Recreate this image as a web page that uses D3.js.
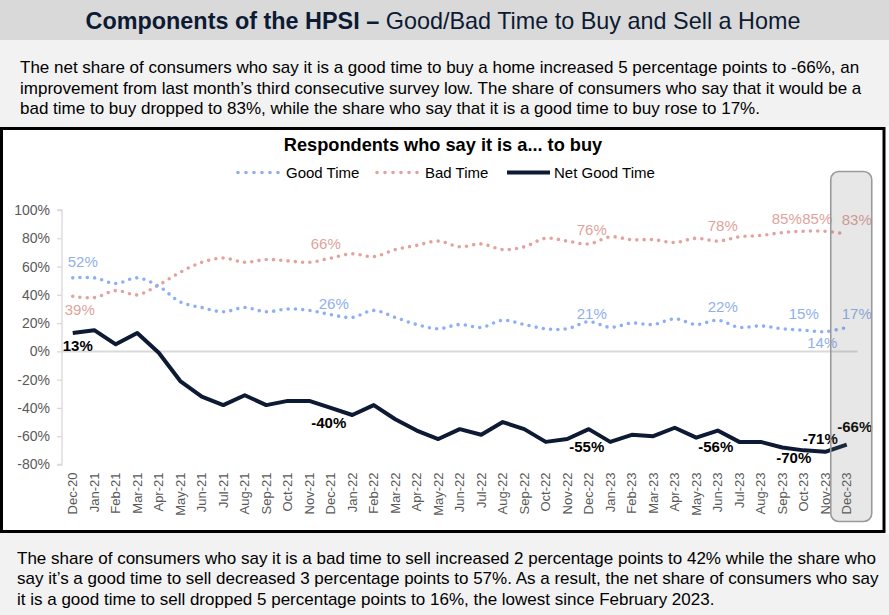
<!DOCTYPE html>
<html><head><meta charset="utf-8">
<script src="https://cdn.jsdelivr.net/npm/d3@7"></script>
<style>body{margin:0;background:#f2f2f2;}svg{display:block;font-family:"Liberation Sans",Arial,sans-serif;}</style>
</head><body><svg id="c" width="889" height="615"></svg>
<script>
const months = ["Dec-20","Jan-21","Feb-21","Mar-21","Apr-21","May-21","Jun-21","Jul-21","Aug-21","Sep-21","Oct-21","Nov-21",
"Dec-21","Jan-22","Feb-22","Mar-22","Apr-22","May-22","Jun-22","Jul-22","Aug-22","Sep-22","Oct-22","Nov-22",
"Dec-22","Jan-23","Feb-23","Mar-23","Apr-23","May-23","Jun-23","Jul-23","Aug-23","Sep-23","Oct-23","Nov-23","Dec-23"];
const goodTime = [52,52,48,52,46,35,31,28,31,28,30,29,26,24,29,24,19,16,19,17,22,19,16,16,21,17,20,19,23,19,22,17,18,16,15,14,17];
const badTime  = [39,38,43,40,47,56,63,66,63,65,64,63,66,69,67,72,75,78,74,76,72,74,80,78,76,81,79,79,77,80,78,81,82,84,85,85,83];
const netGood  = [13,15,5,13,-1,-21,-32,-38,-31,-38,-35,-35,-40,-45,-38,-48,-56,-62,-55,-59,-50,-55,-64,-62,-55,-64,-59,-60,-54,-61,-56,-64,-64,-68,-70,-71,-66];
const yTicks = [100,80,60,40,20,0,-20,-40,-60,-80];
const labeledIdx = [0,12,24,30,34,35,36];
const seriesNames = ["Good Time","Bad Time","Net Good Time"];
const pageTitleBold = "Components of the HPSI \u2013";
const pageTitleRest = " Good/Bad Time to Buy and Sell a Home";
const chartTitle = "Respondents who say it is a... to buy";
const topText = ["The net share of consumers who say it is a good time to buy a home increased 5 percentage points to -66%, an",
"improvement from last month\u2019s third consecutive survey low. The share of consumers who say that it would be a",
"bad time to buy dropped to 83%, while the share who say that it is a good time to buy rose to 17%."];
const bottomText = ["The share of consumers who say it is a bad time to sell increased 2 percentage points to 42% while the share who",
"say it\u2019s a good time to sell decreased 3 percentage points to 57%. As a result, the net share of consumers who say",
"it is a good time to sell dropped 5 percentage points to 16%, the lowest since February 2023."];

const svg = d3.select("#c");
const C_GOOD = "#8eb0f2", C_BAD = "#e3a39c", C_NET = "#0d1a33";
const C_GOOD_L = "#8fb0ee", C_BAD_L = "#e0a39b";

// page background
svg.append("rect").attr("x",0).attr("y",0).attr("width",889).attr("height",615).attr("fill","#f2f2f2");
svg.append("rect").attr("x",0).attr("y",0).attr("width",889).attr("height",40).attr("fill","#d9d9d9");
const tt = svg.append("text").attr("x",443).attr("y",29).attr("text-anchor","middle").attr("font-size",23.4).attr("fill","#0d1a33");
tt.append("tspan").attr("font-weight","bold").text(pageTitleBold);
tt.append("tspan").text(pageTitleRest);

svg.selectAll("text.top").data(topText).join("text").attr("class","top")
  .attr("x",20).attr("y",(d,i)=>73+i*20.5).attr("font-size",17).attr("fill","#000").text(d=>d);
svg.selectAll("text.bot").data(bottomText).join("text").attr("class","bot")
  .attr("x",17).attr("y",(d,i)=>563.5+i*20.5).attr("font-size",17).attr("fill","#000").text(d=>d);

// chart box
svg.append("rect").attr("x",885).attr("y",127).attr("width",4).attr("height",407).attr("fill","#fff");
svg.append("rect").attr("x",1.5).attr("y",128.5).attr("width",882.5).attr("height",403).attr("fill","#fff")
  .attr("stroke","#000").attr("stroke-width",3);

svg.append("text").attr("x",443).attr("y",151).attr("text-anchor","middle").attr("font-size",18.2)
  .attr("font-weight","bold").attr("fill","#000").text(chartTitle);

// scales
const x = d3.scaleBand().domain(months).range([62,857.5]).padding(0);
const cx = d => x(d) + x.bandwidth()/2;
const y = d3.scaleLinear().domain([-80,100]).range([464.5,210]);

// y axis
const yAxis = svg.append("g").attr("transform","translate(62,0)")
  .call(d3.axisLeft(y).tickValues(yTicks).tickFormat(d=>d+"%").tickSize(5).tickPadding(7));
yAxis.select(".domain").attr("stroke","#d9d9d9").attr("stroke-width",1.3).attr("d","M-5,"+y(100)+"H0V"+y(-80)+"H-5");
yAxis.selectAll(".tick line").attr("stroke","#d9d9d9").attr("stroke-width",1.3);
yAxis.selectAll(".tick text").attr("font-size",14).attr("fill","#595959").attr("font-family","Liberation Sans, Arial");

// zero line
svg.append("line").attr("x1",62).attr("x2",857.5).attr("y1",y(0)).attr("y2",y(0)).attr("stroke","#d9d9d9").attr("stroke-width",2);

// x labels
const xAxis = svg.append("g").attr("transform","translate(0,"+y(-80)+")")
  .call(d3.axisBottom(x).tickSize(0).tickPadding(0));
xAxis.select(".domain").remove();
xAxis.selectAll(".tick text").attr("font-size",13).attr("fill","#595959").attr("font-family","Liberation Sans, Arial")
  .attr("text-anchor","end").attr("transform","translate(0,8) rotate(-90)").attr("dx",0).attr("dy","0.35em").attr("y",0).attr("x",0);

// lines
const lineSmooth = d3.line().x((d,i)=>cx(months[i])).y(d=>y(d)).curve(d3.curveCatmullRom.alpha(0.5));
const lineStraight = d3.line().x((d,i)=>cx(months[i])).y(d=>y(d));
svg.append("path").attr("d",lineSmooth(badTime)).attr("fill","none").attr("stroke",C_BAD)
  .attr("stroke-width",3.6).attr("stroke-linecap","round").attr("stroke-dasharray","0 7.3");
svg.append("path").attr("d",lineSmooth(goodTime)).attr("fill","none").attr("stroke",C_GOOD)
  .attr("stroke-width",3.6).attr("stroke-linecap","round").attr("stroke-dasharray","0 7.3");
svg.append("path").attr("d",lineStraight(netGood)).attr("fill","none").attr("stroke",C_NET)
  .attr("stroke-width",4).attr("stroke-linejoin","round");

// data labels
const offs = {
  good:[[10,-11],[3,-6],[3,-3],[5,-8],[0,-11],[-3,16],[10,-8]],
  bad:[[7,19],[-5,-9],[3,-9],[5,-10],[-17,-7],[-8,-7],[10,-9]],
  net:[[5,18],[-2,20],[-2,23],[-2,21],[-10,13],[-5,-8],[8,-13]]
};
function labels(vals,key,color,weight){
  svg.append("g").selectAll("text").data(labeledIdx).join("text")
    .attr("x",(d,k)=>cx(months[d])+offs[key][k][0]).attr("y",(d,k)=>y(vals[d])+offs[key][k][1])
    .attr("text-anchor","middle").attr("font-size",15).attr("font-weight",weight).attr("fill",color)
    .text(d=>vals[d]+"%");
}
labels(goodTime,"good",C_GOOD_L,"normal");
labels(badTime,"bad",C_BAD_L,"normal");
labels(netGood,"net","#000","bold");

// highlight box for latest month
const last = months[months.length-1];
svg.append("rect").attr("x",cx(last)-16).attr("y",171.5).attr("width",41).attr("height",350).attr("rx",8)
  .attr("fill","rgba(110,110,110,0.17)").attr("stroke","#9a9a9a").attr("stroke-width",1.6);

// legend
const lg = svg.append("g");
const ly = 172.5;
lg.append("line").attr("x1",238).attr("x2",279).attr("y1",ly).attr("y2",ly).attr("stroke",C_GOOD).attr("stroke-width",3.6)
  .attr("stroke-linecap","round").attr("stroke-dasharray","0 8");
lg.append("text").attr("x",286).attr("y",ly+5.5).attr("font-size",15).text(seriesNames[0]);
lg.append("line").attr("x1",377).attr("x2",418).attr("y1",ly).attr("y2",ly).attr("stroke",C_BAD).attr("stroke-width",3.6)
  .attr("stroke-linecap","round").attr("stroke-dasharray","0 8");
lg.append("text").attr("x",425).attr("y",ly+5.5).attr("font-size",15).text(seriesNames[1]);
lg.append("line").attr("x1",507).attr("x2",550).attr("y1",ly).attr("y2",ly).attr("stroke",C_NET).attr("stroke-width",4);
lg.append("text").attr("x",554).attr("y",ly+5.5).attr("font-size",15).text(seriesNames[2]);
</script></body></html>
